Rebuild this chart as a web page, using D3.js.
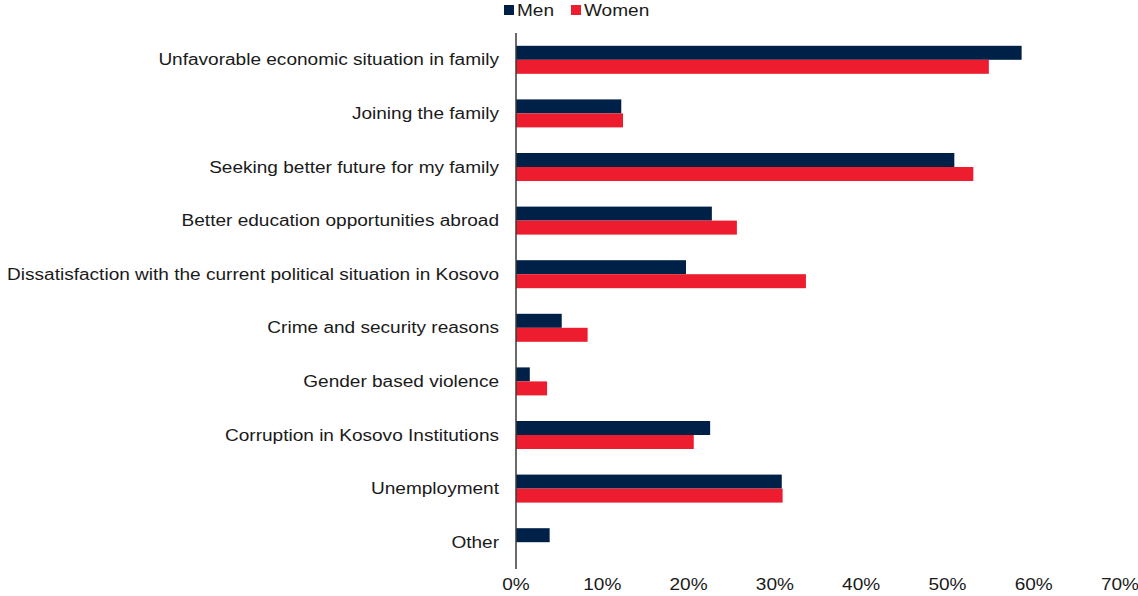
<!DOCTYPE html>
<html>
<head>
<meta charset="utf-8">
<script src="https://cdn.jsdelivr.net/npm/d3@7"></script>
<style>
  html, body { margin: 0; padding: 0; background: #fff; }
  svg { display: block; }
  text { font-family: "Liberation Sans", Arial, sans-serif; fill: #1a1a1a; font-size: 16px; }
</style>
</head>
<body>
<svg id="chart" width="1138" height="596"></svg>
<script>
// Reasons for emigration, share of respondents by gender
const categories = [
  "Unfavorable economic situation in family",
  "Joining the family",
  "Seeking better future for my family",
  "Better education opportunities abroad",
  "Dissatisfaction with the current political situation in Kosovo",
  "Crime and security reasons",
  "Gender based violence",
  "Corruption in Kosovo Institutions",
  "Unemployment",
  "Other"
];
const seriesNames = ["Men", "Women"];
const menValues   = [0.586, 0.122, 0.508, 0.227, 0.197, 0.053, 0.016, 0.225, 0.308, 0.039];
const womenValues = [0.548, 0.124, 0.530, 0.256, 0.336, 0.083, 0.036, 0.206, 0.309, 0.0];
const xTicks = [0, 0.1, 0.2, 0.3, 0.4, 0.5, 0.6, 0.7];
const colors = ["#002147", "#ED1C2E"];

const svg = d3.select("#chart");
const plot = { left: 516, right: 1120, top: 33, bottom: 569 };
const stretch = 1.19;   // wide label lettering

const x = d3.scaleLinear().domain([0, 0.7]).range([plot.left, plot.right]);
const y = d3.scaleBand().domain(categories).range([plot.top, plot.bottom]);
const barH = 14;
const sub = d3.scaleBand().domain(seriesNames).range([-barH, barH]);

const rows = categories.map((c, i) => ({ cat: c, values: [menValues[i], womenValues[i]] }));

// helper: text placed at (px,py) and stretched horizontally around that anchor
function label(parent, px, py, str, anchor) {
  return parent.append("text")
    .attr("transform", `translate(${px},${py}) scale(${stretch},1)`)
    .attr("text-anchor", anchor)
    .attr("dy", "0.35em")
    .text(str);
}

// bars
const g = svg.append("g");
rows.forEach(r => {
  const cy = y(r.cat) + y.bandwidth() / 2;
  r.values.forEach((v, k) => {
    if (v <= 0) return;
    g.append("rect")
      .attr("x", x(0))
      .attr("y", cy + sub(seriesNames[k]))
      .attr("width", x(v) - x(0))
      .attr("height", sub.bandwidth())
      .attr("fill", colors[k]);
  });
});

// category labels
const yLabels = svg.append("g");
categories.forEach(c => {
  label(yLabels, plot.left - 17, y(c) + y.bandwidth() / 2, c, "end");
});

// category axis line
svg.append("line")
  .attr("x1", x(0)).attr("x2", x(0))
  .attr("y1", plot.top).attr("y2", plot.bottom)
  .attr("stroke", "#3a3a3a").attr("stroke-width", 1.5);

// value axis labels
const fmt = d3.format(".0%");
const xLabels = svg.append("g");
xTicks.forEach(t => label(xLabels, x(t), 584, fmt(t), "middle"));

// legend
const legend = svg.append("g").attr("transform", "translate(504,5)");
const legX = [0, 67];
seriesNames.forEach((name, k) => {
  const lg = legend.append("g").attr("transform", `translate(${legX[k]},0)`);
  lg.append("rect").attr("width", 10).attr("height", 10).attr("fill", colors[k]);
  label(lg, 13, 5.5, name, "start");
});
</script>
</body>
</html>
